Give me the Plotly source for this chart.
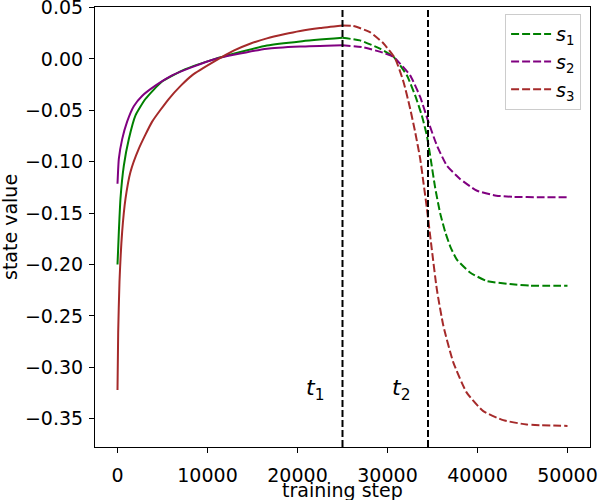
import plotly.graph_objects as go

# phase 1 (solid): steps 0 .. t1
s1_steps_a = [0, 150, 330, 700, 1260, 2000, 3100, 4950, 7540, 10860, 12900, 16600, 20300, 25000]
s1_vals_a = [-0.200, -0.168, -0.136, -0.104, -0.078, -0.055, -0.039, -0.022, -0.010, 0.000, 0.005, 0.013, 0.017, 0.0205]

s2_steps_a = [0, 150, 520, 1070, 1810, 2730, 4210, 6060, 8280, 10860, 12900, 16600, 20300, 25000]
s2_vals_a = [-0.1215, -0.097, -0.078, -0.061, -0.046, -0.036, -0.026, -0.016, -0.008, 0.000, 0.004, 0.010, 0.012, 0.0133]

s3_steps_a = [0, 75, 220, 520, 890, 1440, 2360, 3850, 5690, 7040, 8280, 10860, 12900, 14800, 16600, 18500, 20300,
              22500, 25000]
s3_vals_a = [-0.322, -0.266, -0.217, -0.168, -0.136, -0.110, -0.0875, -0.061, -0.039, -0.026, -0.016, -0.002, 0.008,
             0.015, 0.020, 0.024, 0.0272, 0.030, 0.0325]

# phase 2 (dashed): t1 .. end
s1_steps_b = [25000, 26940, 29160, 30670, 32150, 33070, 33810, 34370, 34740, 35290, 35850, 36400,
              37000, 37690, 39170, 41020, 43600, 45820, 50000]
s1_vals_b = [0.0205, 0.018, 0.010, 0.002, -0.016, -0.0355, -0.055, -0.0745, -0.094, -0.125, -0.150, -0.168,
             -0.183, -0.195, -0.2077, -0.216, -0.219, -0.2205, -0.2207]

s2_steps_b = [25000, 27300, 29500, 30670, 31400, 32520, 33630, 34550, 35480, 36590, 38060, 39900,
              42100, 44000, 47000, 50000]
s2_vals_b = [0.0133, 0.0114, 0.006, 0.002, -0.0046, -0.016, -0.037, -0.0614, -0.084, -0.1037, -0.1167, -0.128,
             -0.133, -0.1342, -0.1345, -0.1345]

s3_steps_b = [25000, 26200, 28050, 29560, 30850, 31780, 32520, 33070, 33630, 33990, 34370, 34920,
              35480, 36210, 37320, 38800, 40640, 42860, 45450, 50000]
s3_vals_b = [0.0325, 0.032, 0.026, 0.015, 0.0003, -0.0224, -0.0485, -0.071, -0.097, -0.120, -0.145, -0.185,
             -0.224, -0.2597, -0.2954, -0.3246, -0.3426, -0.3514, -0.3556, -0.357]

t_marks = [25000, 34500]
t_names = ["<i>t</i><sub>1</sub>", "<i>t</i><sub>2</sub>"]

x_ticks = [0, 10000, 20000, 30000, 40000, 50000]
y_ticks = [-0.35, -0.30, -0.25, -0.20, -0.15, -0.10, -0.05, 0.00, 0.05]

FONT = "DejaVu Sans"
series = [
    ("<i>s</i><sub>1</sub>", "green", s1_steps_a, s1_vals_a, s1_steps_b, s1_vals_b),
    ("<i>s</i><sub>2</sub>", "purple", s2_steps_a, s2_vals_a, s2_steps_b, s2_vals_b),
    ("<i>s</i><sub>3</sub>", "brown", s3_steps_a, s3_vals_a, s3_steps_b, s3_vals_b),
]

fig = go.Figure()
for name, color, xa, ya, xb, yb in series:
    fig.add_trace(go.Scatter(x=xa, y=ya, mode="lines", showlegend=False,
                             line=dict(color=color, width=2, shape="spline", smoothing=0.5)))
for name, color, xa, ya, xb, yb in series:
    fig.add_trace(go.Scatter(x=xb, y=yb, mode="lines", name=name,
                             line=dict(color=color, width=2, dash="8px,3px", shape="spline", smoothing=0.5)))

for t, label in zip(t_marks, t_names):
    fig.add_shape(type="line", x0=t, x1=t, y0=0, y1=1, xref="x", yref="paper",
                  line=dict(color="black", width=2, dash="7px,3px"))
    fig.add_annotation(x=t - 1800, y=-0.322, text=label, showarrow=False,
                       xanchor="right", yanchor="middle",
                       font=dict(family=FONT, size=22, color="black"))

# axis titles as paper annotations (fixed margins)
fig.add_annotation(x=0.5, y=0, xref="paper", yref="paper", yshift=-43, text="training step",
                   showarrow=False, xanchor="center", yanchor="middle",
                   font=dict(family=FONT, size=19, color="black"))
fig.add_annotation(x=0, y=0.5, xref="paper", yref="paper", xshift=-85, text="state value",
                   showarrow=False, textangle=-90, xanchor="center", yanchor="middle",
                   font=dict(family=FONT, size=19, color="black"))

axis_common = dict(showgrid=False, zeroline=False, showline=True, linecolor="black", linewidth=1.1,
                   mirror=True, ticks="outside", ticklen=5, tickwidth=1.1, tickcolor="black",
                   automargin=False, ticklabeloverflow="allow",
                   tickfont=dict(family=FONT, size=19, color="black"))

fig.update_layout(
    width=600, height=500,
    margin=dict(l=95, r=10, t=7, b=53),
    plot_bgcolor="white", paper_bgcolor="white",
    font=dict(family=FONT, size=19, color="black"),
    xaxis=dict(range=[-2500, 52500], tickvals=x_ticks, ticktext=[str(v) for v in x_ticks],
               ticklabelstandoff=6, **axis_common),
    yaxis=dict(range=[-0.3775, 0.0505], tickvals=y_ticks, tickformat=".2f",
               ticklabelstandoff=2, **axis_common),
    legend=dict(x=0.982, y=0.984, xanchor="right", yanchor="top",
                bgcolor="rgba(255,255,255,0.8)", bordercolor="#cccccc", borderwidth=1,
                itemwidth=40, font=dict(family=FONT, size=19, color="black")),
)

fig.write_html("out.html", config={"displayModeBar": False},
               post_script="document.body.style.margin='0';")
